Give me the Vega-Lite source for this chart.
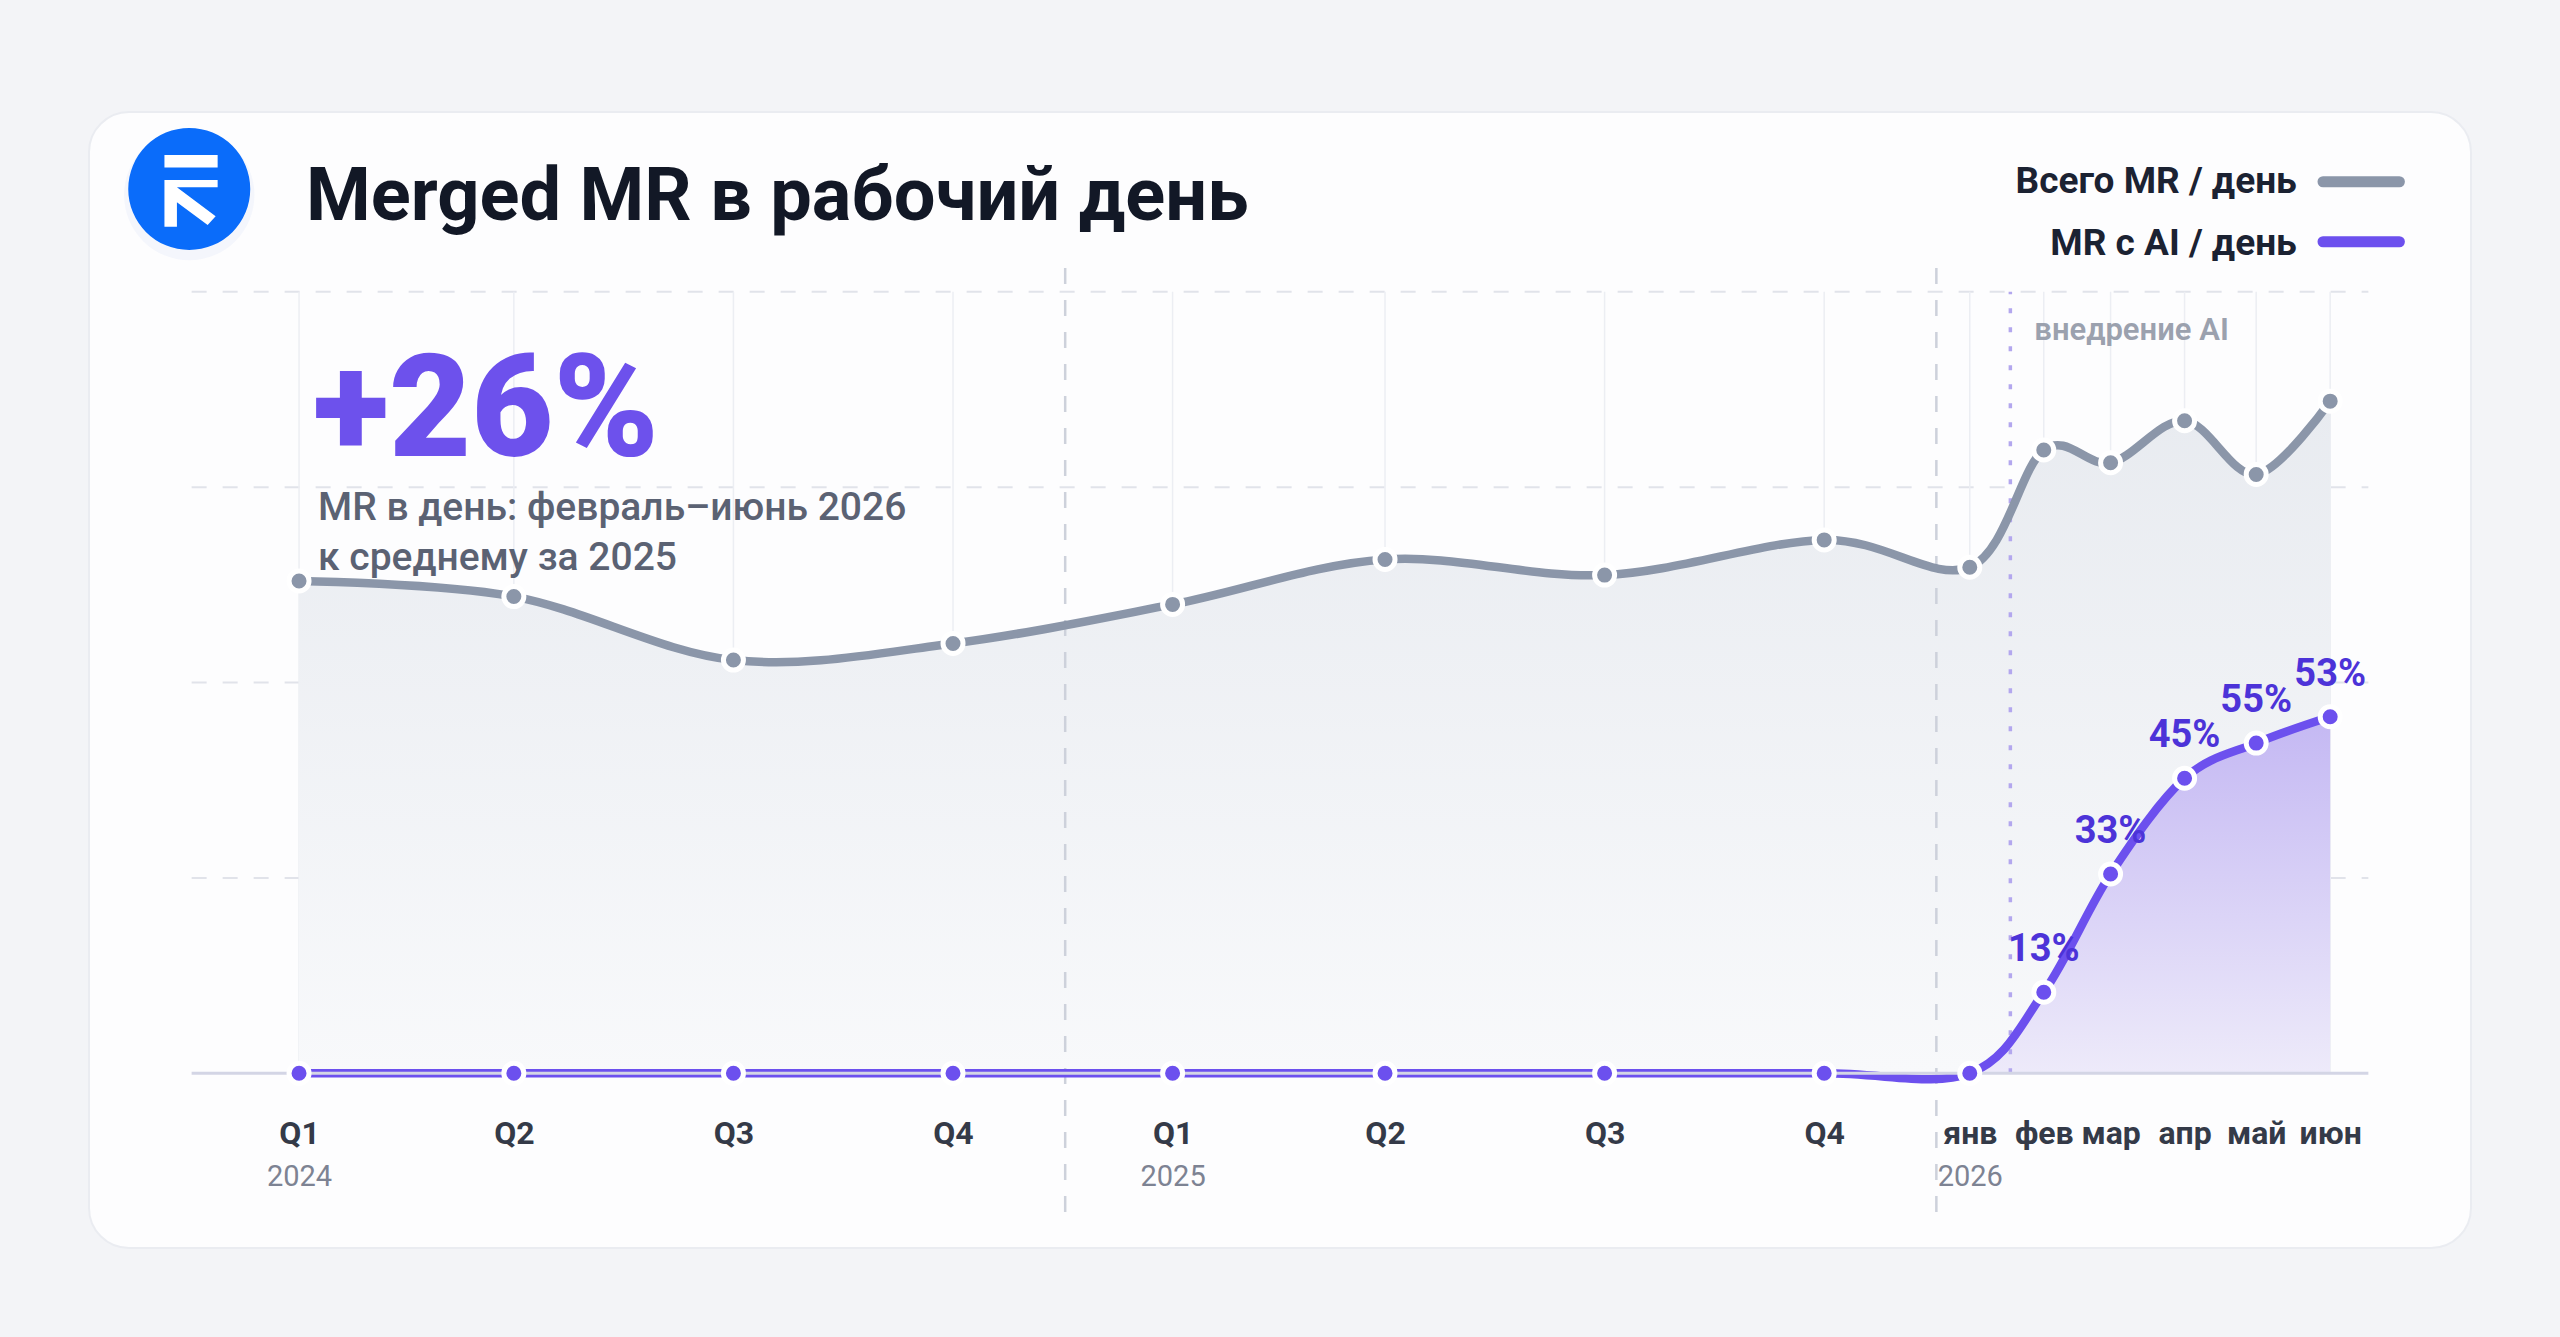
{
  "$schema": "https://vega.github.io/schema/vega-lite/v6.json",
  "width": 2382,
  "height": 1136,
  "autosize": {"type": "none"},
  "padding": {"left": 89, "top": 112, "right": 89, "bottom": 89},
  "background": "#f3f4f7",
  "title": {
    "text": "Merged MR в рабочий день",
    "anchor": "start",
    "frame": "group",
    "orient": "top",
    "offset": -182,
    "dx": 217,
    "font": "Roboto",
    "fontSize": 74,
    "fontWeight": 700,
    "color": "#121826",
    "baseline": "alphabetic"
  },
  "config": {
    "font": "Roboto",
    "view": {"fill": "#fdfdfe", "stroke": "#eaecf1", "strokeWidth": 2, "cornerRadius": 40}
  },
  "datasets": {
    "mr": [
      {"period": "Q1", "date": "2024-02-15", "total": 25.2, "ai": 0},
      {"period": "Q2", "date": "2024-05-15", "total": 24.4, "ai": 0},
      {"period": "Q3", "date": "2024-08-15", "total": 21.15, "ai": 0},
      {"period": "Q4", "date": "2024-11-15", "total": 22.0, "ai": 0},
      {"period": "Q1", "date": "2025-02-15", "total": 24.0, "ai": 0},
      {"period": "Q2", "date": "2025-05-15", "total": 26.3, "ai": 0},
      {"period": "Q3", "date": "2025-08-15", "total": 25.5, "ai": 0},
      {"period": "Q4", "date": "2025-11-15", "total": 27.3, "ai": 0},
      {"period": "янв", "date": "2026-01-15", "total": 25.9, "ai": 0},
      {"period": "фев", "date": "2026-02-15", "total": 31.9, "ai": 4.15, "share": 0.13},
      {"period": "мар", "date": "2026-03-15", "total": 31.25, "ai": 10.2, "share": 0.33},
      {"period": "апр", "date": "2026-04-15", "total": 33.4, "ai": 15.1, "share": 0.45},
      {"period": "май", "date": "2026-05-15", "total": 30.65, "ai": 16.9, "share": 0.55},
      {"period": "июн", "date": "2026-06-15", "total": 34.4, "ai": 18.25, "share": 0.53}
    ],
    "grid": [{"v": 10}, {"v": 20}, {"v": 30}, {"v": 40}],
    "years": [{"d": "2025-01-01"}, {"d": "2026-01-01"}],
    "one": [{}]
  },
  "data": {"name": "mr"},
  "layer": [
    {
      "data": {"name": "grid"},
      "mark": {"type": "rule", "color": "#e1e3ea", "strokeWidth": 2, "strokeDash": [15, 16]},
      "encoding": {
        "x": {"datum": 1704067200000, "type": "temporal", "axis": null},
        "x2": {"datum": 1782864000000},
        "y": {"field": "v", "type": "quantitative", "axis": null}
      }
    },
    {
      "mark": {"type": "rule", "color": "#eceef3", "strokeWidth": 1.5},
      "encoding": {
        "x": {
          "field": "date",
          "type": "temporal",
          "scale": {"type": "utc", "domain": [1700352000000, 1786579200000], "nice": false},
          "axis": {
            "orient": "bottom",
            "title": null,
            "offset": -174.7,
            "domain": false,
            "ticks": false,
            "tickSize": 0,
            "grid": false,
            "values": [
              1707955200000, 1715731200000, 1723680000000, 1731628800000,
              1739577600000, 1747267200000, 1755216000000, 1763164800000,
              1768435200000, 1771113600000, 1773532800000, 1776211200000,
              1778803200000, 1781481600000
            ],
            "labelExpr": "utcyear(datum.value) < 2026 ? 'Q' + (floor(utcmonth(datum.value) / 3) + 1) : ['янв','фев','мар','апр','май','июн'][utcmonth(datum.value)]",
            "labelPadding": 70,
            "labelBaseline": "alphabetic",
            "labelFont": "Roboto",
            "labelFontSize": 32,
            "labelFontWeight": 700,
            "labelColor": "#343a48",
            "labelOverlap": false,
            "labelFlush": false,
            "labelBound": false
          }
        },
        "y": {"datum": 0, "type": "quantitative", "scale": {"domain": [-8.94, 49.2], "nice": false, "zero": false}, "axis": null},
        "y2": {"datum": 40}
      }
    },
    {
      "mark": {
        "type": "area",
        "interpolate": "cardinal",
        "color": {
          "gradient": "linear",
          "x1": 0, "y1": 0, "x2": 0, "y2": 1,
          "stops": [
            {"offset": 0, "color": "#e8ebf0"},
            {"offset": 1, "color": "#f8f9fb"}
          ]
        }
      },
      "encoding": {
        "x": {
          "field": "date",
          "type": "temporal",
          "axis": {
            "orient": "bottom",
            "title": null,
            "offset": -174.7,
            "domain": false,
            "ticks": false,
            "tickSize": 0,
            "grid": false,
            "values": [1707955200000, 1739577600000, 1768435200000],
            "labelExpr": "utcFormat(datum.value, '%Y')",
            "labelPadding": 112,
            "labelBaseline": "alphabetic",
            "labelFont": "Roboto",
            "labelFontSize": 29,
            "labelFontWeight": 400,
            "labelColor": "#7d8393",
            "labelOverlap": false,
            "labelFlush": false,
            "labelBound": false
          }
        },
        "y": {"field": "total", "type": "quantitative", "axis": null},
        "y2": {"datum": 0}
      }
    },
    {
      "mark": {
        "type": "area",
        "interpolate": "cardinal",
        "color": {
          "gradient": "linear",
          "x1": 0, "y1": 0, "x2": 0, "y2": 1,
          "stops": [
            {"offset": 0, "color": "#c4b8f3"},
            {"offset": 1, "color": "#eeebfa"}
          ]
        }
      },
      "encoding": {
        "x": {"field": "date", "type": "temporal", "axis": null},
        "y": {"field": "ai", "type": "quantitative", "axis": null},
        "y2": {"datum": 0}
      }
    },
    {
      "data": {"name": "years"},
      "mark": {"type": "rule", "color": "#cdd1db", "strokeWidth": 2.5, "strokeDash": [16, 16]},
      "encoding": {
        "x": {"field": "d", "type": "temporal", "axis": null},
        "y": {"datum": -7.1, "type": "quantitative", "axis": null},
        "y2": {"datum": 41.5}
      }
    },
    {
      "data": {"name": "one"},
      "mark": {"type": "rule", "color": "#b3a7ee", "strokeWidth": 3.5, "strokeDash": [5, 14]},
      "encoding": {
        "x": {"datum": 1769904000000, "type": "temporal", "axis": null},
        "y": {"datum": 0, "type": "quantitative", "axis": null},
        "y2": {"datum": 40}
      }
    },
    {
      "data": {"name": "one"},
      "mark": {"type": "text", "text": "внедрение AI", "align": "left", "baseline": "alphabetic", "dx": 24, "fontSize": 31, "fontWeight": 600, "color": "#9ba1ae"},
      "encoding": {
        "x": {"datum": 1769904000000, "type": "temporal", "axis": null},
        "y": {"datum": 37.53, "type": "quantitative", "axis": null}
      }
    },
    {
      "mark": {"type": "line", "interpolate": "cardinal", "color": "#8b96a9", "strokeWidth": 8.5, "strokeCap": "round"},
      "encoding": {
        "x": {"field": "date", "type": "temporal", "axis": null},
        "y": {"field": "total", "type": "quantitative", "axis": null}
      }
    },
    {
      "mark": {"type": "line", "interpolate": "cardinal", "color": "#6c50ee", "strokeWidth": 8.5, "strokeCap": "round"},
      "encoding": {
        "x": {"field": "date", "type": "temporal", "axis": null},
        "y": {"field": "ai", "type": "quantitative", "axis": null}
      }
    },
    {
      "data": {"name": "one"},
      "mark": {"type": "rule", "color": "#d3d5e5", "strokeWidth": 3},
      "encoding": {
        "x": {"datum": 1704067200000, "type": "temporal", "axis": null},
        "x2": {"datum": 1782864000000},
        "y": {"datum": 0, "type": "quantitative", "axis": null}
      }
    },
    {
      "mark": {"type": "point", "filled": true, "size": 400, "fill": "#8b96a9", "stroke": "#ffffff", "strokeWidth": 5, "opacity": 1},
      "encoding": {
        "x": {"field": "date", "type": "temporal", "axis": null},
        "y": {"field": "total", "type": "quantitative", "axis": null}
      }
    },
    {
      "mark": {"type": "point", "filled": true, "size": 400, "fill": "#6c50ee", "stroke": "#ffffff", "strokeWidth": 5, "opacity": 1},
      "encoding": {
        "x": {"field": "date", "type": "temporal", "axis": null},
        "y": {"field": "ai", "type": "quantitative", "axis": null}
      }
    },
    {
      "transform": [{"filter": "datum.share > 0"}],
      "mark": {"type": "text", "align": "center", "baseline": "alphabetic", "dy": -31, "fontSize": 38, "fontWeight": 700, "color": "#4c33d8"},
      "encoding": {
        "x": {"field": "date", "type": "temporal", "axis": null},
        "y": {"field": "ai", "type": "quantitative", "axis": null},
        "text": {"field": "share", "type": "quantitative", "format": ".0%"}
      }
    },
    {
      "data": {"name": "one"},
      "mark": {"type": "text", "text": "+26%", "align": "left", "baseline": "alphabetic", "dx": 14, "fontSize": 142, "fontWeight": 900, "color": "#6d51ec"},
      "encoding": {
        "x": {"datum": 1707955200000, "type": "temporal", "axis": null},
        "y": {"datum": 31.59, "type": "quantitative", "axis": null}
      }
    },
    {
      "data": {"name": "one"},
      "mark": {"type": "text", "text": ["MR в день: февраль–июнь 2026", "к среднему за 2025"], "lineHeight": 50, "align": "left", "baseline": "alphabetic", "dx": 19, "fontSize": 39, "fontWeight": 500, "color": "#5b6273"},
      "encoding": {
        "x": {"datum": 1707955200000, "type": "temporal", "axis": null},
        "y": {"datum": 28.3, "type": "quantitative", "axis": null}
      }
    },
    {
      "data": {"name": "one"},
      "mark": {"type": "point", "filled": true, "shape": "circle", "size": 17000, "color": "#1d4ed8", "opacity": 0.04},
      "encoding": {
        "x": {"datum": 1703980800000, "type": "temporal", "axis": null},
        "y": {"datum": 44.95, "type": "quantitative", "axis": null}
      }
    },
    {
      "data": {"name": "one"},
      "mark": {"type": "point", "filled": true, "shape": "circle", "size": 14884, "color": "#0a6cfa", "opacity": 1},
      "encoding": {
        "x": {"datum": 1703980800000, "type": "temporal", "axis": null},
        "y": {"datum": 45.26, "type": "quantitative", "axis": null}
      }
    },
    {
      "data": {"name": "one"},
      "mark": {
        "type": "point",
        "filled": true,
        "size": 6400,
        "color": "#ffffff",
        "opacity": 1,
        "shape": "M-0.62,-0.85L0.71,-0.85L0.71,-0.54L-0.62,-0.54Z M-0.62,-0.225L0.71,-0.225L0.71,-0.043L-0.308,-0.043L-0.308,0.943L-0.62,0.943Z M-0.308,-0.043L0.66,0.68L0.46,0.9L-0.308,0.33Z"
      },
      "encoding": {
        "x": {"datum": 1703980800000, "type": "temporal", "axis": null},
        "y": {"datum": 45.26, "type": "quantitative", "axis": null}
      }
    },
    {
      "data": {"name": "one"},
      "mark": {"type": "rule", "color": "#8b96a9", "strokeWidth": 11, "strokeCap": "round"},
      "encoding": {
        "x": {"datum": 1781222400000, "type": "temporal", "axis": null},
        "x2": {"datum": 1783987200000},
        "y": {"datum": 45.63, "type": "quantitative", "axis": null}
      }
    },
    {
      "data": {"name": "one"},
      "mark": {"type": "rule", "color": "#6c50ee", "strokeWidth": 11, "strokeCap": "round"},
      "encoding": {
        "x": {"datum": 1781222400000, "type": "temporal", "axis": null},
        "x2": {"datum": 1783987200000},
        "y": {"datum": 42.56, "type": "quantitative", "axis": null}
      }
    },
    {
      "data": {"name": "one"},
      "mark": {"type": "text", "text": "Всего MR / день", "align": "right", "baseline": "alphabetic", "fontSize": 37, "fontWeight": 700, "color": "#1b2232"},
      "encoding": {
        "x": {"datum": 1780272000000, "type": "temporal", "axis": null},
        "y": {"datum": 45.04, "type": "quantitative", "axis": null}
      }
    },
    {
      "data": {"name": "one"},
      "mark": {"type": "text", "text": "MR с AI / день", "align": "right", "baseline": "alphabetic", "fontSize": 37, "fontWeight": 700, "color": "#1b2232"},
      "encoding": {
        "x": {"datum": 1780272000000, "type": "temporal", "axis": null},
        "y": {"datum": 41.9, "type": "quantitative", "axis": null}
      }
    }
  ],
  "resolve": {"axis": {"x": "independent"}}
}
